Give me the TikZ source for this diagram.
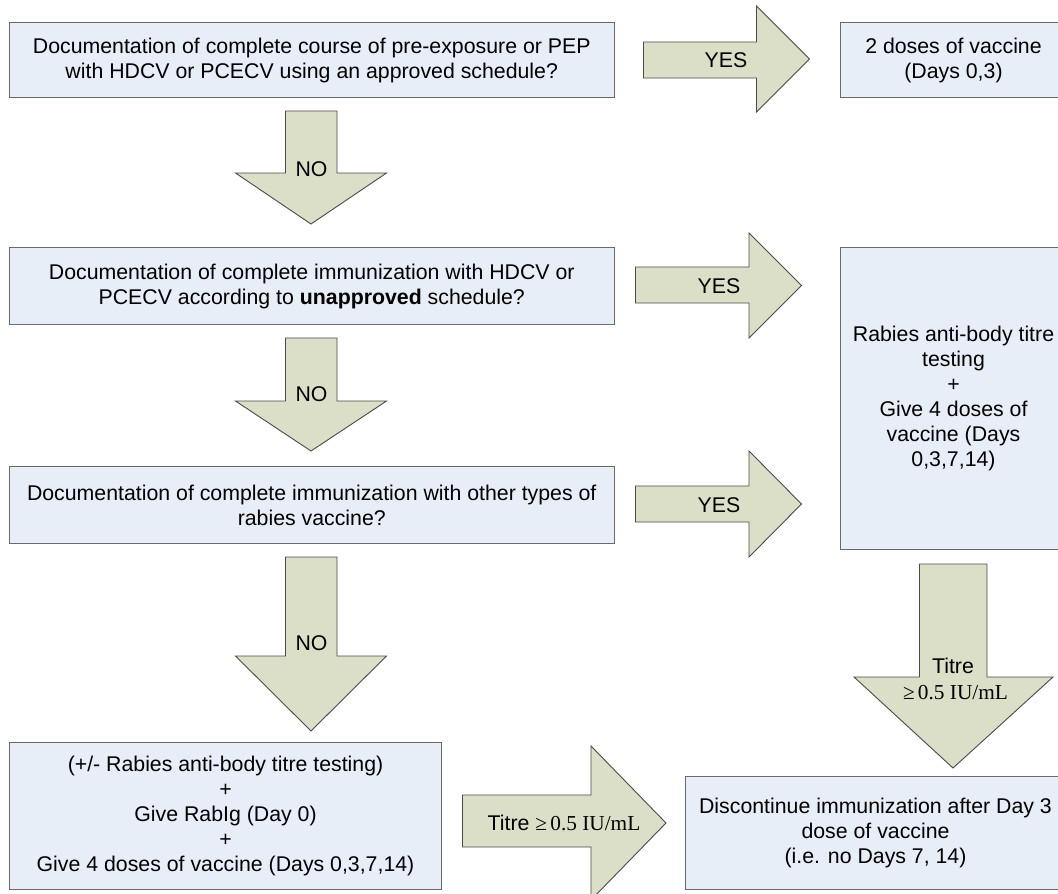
\documentclass[tikz,border=0pt]{standalone}
\usepackage{fontspec}
\setmainfont{Liberation Sans}
\newfontfamily\tnr{Liberation Serif}
\definecolor{boxfill}{HTML}{E8EEF7}
\definecolor{boxline}{HTML}{6A6A6A}
\definecolor{arrfill}{HTML}{DCDFC8}
\definecolor{arrline}{HTML}{4A4A4A}
\begin{document}
\begin{tikzpicture}[x=1pt,y=-1pt,
  box/.style={draw=boxline, fill=boxfill, line width=1pt, inner sep=0pt, anchor=north west, align=center, font=\fontsize{21.3}{25}\selectfont},
  blk/.style={draw=arrline, fill=arrfill, line width=0.9pt, line join=miter},
  txt/.style={align=center, inner sep=0pt, font=\fontsize{21.3}{25}\selectfont}]
\clip (0,0) rectangle (1058,894);
\fill[white] (0,0) rectangle (1058,894);

% boxes
\node[box, minimum width=604.5, minimum height=75] (b1) at (9,22)
  {Documentation of complete course of pre-exposure or PEP\\with HDCV or PCECV using an approved schedule?};
\node[box, minimum width=226, minimum height=75] (r1) at (840,22)
  {2 doses of vaccine\\(Days 0,3)};
\node[box, minimum width=604.5, minimum height=77] (b2) at (9,247)
  {Documentation of complete immunization with HDCV or\\PCECV according to \textbf{unapproved} schedule?};
\node[box, minimum width=226, minimum height=302] (r2) at (840,247)
  {Rabies anti-body titre\\testing\\+\\Give 4 doses of\\vaccine (Days\\0,3,7,14)};
\node[box, minimum width=604.5, minimum height=77] (b3) at (9,466)
  {Documentation of complete immunization with other types of\\rabies vaccine?};
\node[box, minimum width=432, minimum height=147] (b4) at (9,742)
  {(+/- Rabies anti-body titre testing)\\+\\Give RabIg (Day 0)\\+\\Give 4 doses of vaccine (Days 0,3,7,14)};
\node[box, minimum width=380, minimum height=113] (r3) at (685,776)
  {Discontinue immunization after Day 3\\dose of vaccine\\(i.e. no Days 7, 14)};

% YES arrows
\draw[blk] (643.5,42) -- (756.5,42) -- (756.5,6) -- (809.5,59) -- (756.5,112) -- (756.5,78) -- (643.5,78) -- cycle;
\node[txt] (y1) at (726,60) {YES};
\draw[blk] (635.5,267) -- (749,267) -- (749,233) -- (801.5,285.5) -- (749,338) -- (749,303) -- (635.5,303) -- cycle;
\node[txt] (y2) at (719,286) {YES};
\draw[blk] (635.5,486) -- (749,486) -- (749,451) -- (801.5,504) -- (749,557) -- (749,522) -- (635.5,522) -- cycle;
\node[txt] (y3) at (719,505) {YES};

% NO arrows
\draw[blk] (285.5,111) -- (337,111) -- (337,173) -- (386.5,173) -- (311,224) -- (235.5,173) -- (285.5,173) -- cycle;
\node[txt] (n1) at (311.5,169) {NO};
\draw[blk] (285.5,338) -- (337,338) -- (337,401) -- (386.5,401) -- (311,451) -- (235.5,401) -- (285.5,401) -- cycle;
\node[txt] (n2) at (311.5,394) {NO};
\draw[blk] (285.5,557) -- (337,557) -- (337,656) -- (386.5,656) -- (311,731) -- (235.5,656) -- (285.5,656) -- cycle;
\node[txt] (n3) at (311.5,643) {NO};

% Titre arrows
\draw[blk] (919.5,564) -- (987,564) -- (987,677) -- (1053,677) -- (953,768) -- (854,677) -- (919.5,677) -- cycle;
\node[txt] (t1) at (953,666) {Titre};
\node[txt] (t2) at (955.5,693) {{\tnr ≥\hspace{0.15em}0.5 IU/mL}};
\draw[blk] (462.5,795) -- (591,795) -- (591,746) -- (666,823) -- (591,900) -- (591,847) -- (462.5,847) -- cycle;
\node[txt] (t3) at (564,823) {Titre {\tnr ≥\hspace{0.15em}0.5 IU/mL}};
\end{tikzpicture}
\end{document}
